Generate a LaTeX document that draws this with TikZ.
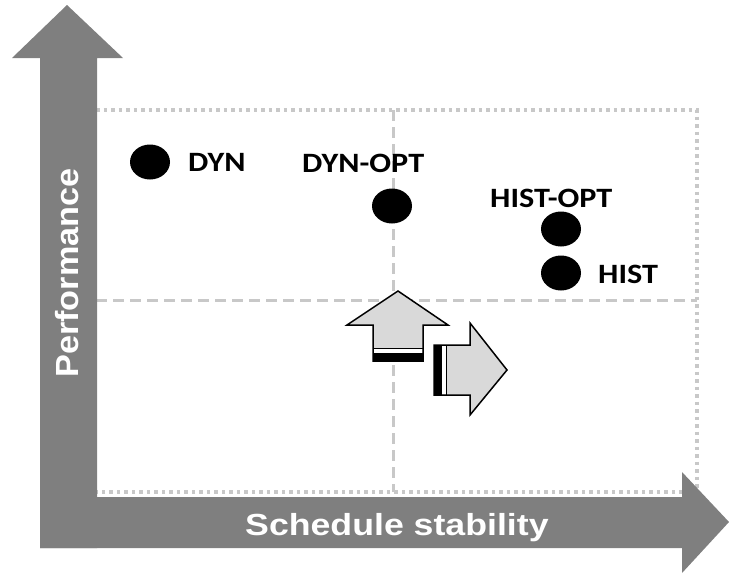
\documentclass[tikz,border=0pt]{standalone}
\usepackage{fontspec}
\setmainfont{Carlito}
\newfontfamily\axisfont{Liberation Sans}
\usetikzlibrary{shapes.geometric}
\definecolor{axisgray}{RGB}{127,127,127}
\definecolor{boxgray}{RGB}{217,217,217}
\definecolor{gridgray}{RGB}{200,200,200}
\tikzset{
  axisarrow/.style={fill=axisgray, draw=none},
  gridframe/.style={draw=gridgray, line width=3.5pt, dash pattern=on 3.5pt off 4pt},
  gridcross/.style={draw=gridgray, line width=3pt, dash pattern=on 11pt off 6pt},
  blockarrow/.style={fill=boxgray, draw=black, line width=1.5pt, line join=miter},
  band/.style={fill=black, draw=none},
  dotmark/.style={ellipse, fill=black, draw=none, minimum width=40pt, minimum height=35pt, inner sep=0pt},
  ptlabel/.style={anchor=base west, inner sep=0pt, font=\fontsize{28}{28}\selectfont\bfseries},
  axislabel/.style={anchor=base west, inner sep=0pt, text=white, font=\axisfont\bfseries}
}
\begin{document}
\begin{tikzpicture}[x=1pt, y=-1pt]
\useasboundingbox (0,0) rectangle (729,573);
% grid
\draw[gridframe] (96,110) -- (697,110) -- (697,492) -- (96,492);
\draw[gridcross] (393,110) -- (393,492);
\draw[gridcross] (96,300) -- (697,300);
% axes
\fill[axisarrow] (67,5) -- (123,58) -- (97,58) -- (97,548) -- (40,548) -- (40,58) -- (12,58) -- cycle;
\fill[axisarrow] (40,497) -- (682,497) -- (682,472) -- (729,522) -- (682,573) -- (682,548) -- (40,548) -- cycle;
\node[axislabel, font=\axisfont\bfseries\fontsize{30.5}{30.5}\selectfont] (xlab) at (245,535) {\scalebox{1.17}[1]{Schedule stability}};
\node[axislabel, rotate=90, font=\axisfont\bfseries\fontsize{32}{32}\selectfont] (ylab) at (78,378) {\scalebox{1.07}[1]{Performance}};
% up arrow
\draw[blockarrow] (398,291) -- (448,325) -- (423,325) -- (423,361) -- (373,361) -- (373,325) -- (347,325) -- cycle;
\fill[white] (373.75,349) rectangle (422.25,353);
\fill[band] (373,353) rectangle (423,361);
\draw[black, line width=1.5pt] (373,348.5) -- (423,348.5);
% right arrow
\draw[blockarrow] (507,370) -- (470,415) -- (470,395) -- (434,395) -- (434,345) -- (470,345) -- (470,323) -- cycle;
\fill[white] (442,345.75) rectangle (446,394.25);
\fill[band] (434,345) rectangle (442,395);
\draw[black, line width=1.5pt] (446.5,345) -- (446.5,395);
% points
\node[dotmark] (dyn) at (150,162) {};
\node[dotmark] (dynopt) at (392,206) {};
\node[dotmark] (histopt) at (561,229) {};
\node[dotmark] (hist) at (561,273) {};
\node[ptlabel] (ldyn) at (188,171) {\scalebox{1.15}[1]{DYN}};
\node[ptlabel] (ldynopt) at (302,172) {\scalebox{1.15}[1]{DYN-OPT}};
\node[ptlabel] (lhistopt) at (490,207) {\scalebox{1.15}[1]{HIST-OPT}};
\node[ptlabel] (lhist) at (598,283) {\scalebox{1.15}[1]{HIST}};
\end{tikzpicture}
\end{document}
